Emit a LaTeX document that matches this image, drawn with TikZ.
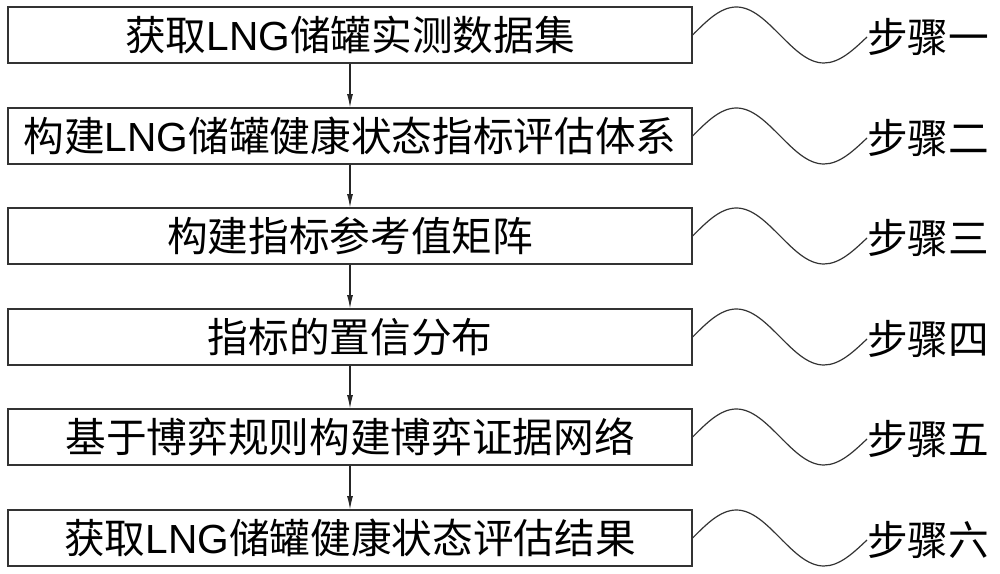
\documentclass[tikz,border=0pt]{standalone}
\usepackage{fontspec}
\setmainfont{Noto Sans CJK SC}
\newfontfamily\latinsans{Liberation Sans}
\usetikzlibrary{arrows.meta}
\newcommand{\lngtxt}{{\latinsans LNG}}
\tikzset{
  stepbox/.style={draw=black!80, line width=0.9pt, minimum width=513pt, minimum height=42pt, inner sep=0pt, font=\fontsize{30.5pt}{32pt}\selectfont},
  steplabel/.style={anchor=west, inner sep=0pt, font=\fontsize{30.5pt}{32pt}\selectfont},
  flow/.style={draw=black!85, line width=0.8pt, -{Latex[length=10pt,width=4.5pt]}},
  wave/.style={draw=black!80, line width=0.9pt}
}
\begin{document}
\begin{tikzpicture}[x=0.75pt,y=-0.75pt]
\useasboundingbox (0,0) rectangle (1000,574);
\node[stepbox] (b1) at (350,35) {获取\lngtxt 储罐实测数据集};
\node[stepbox] (b2) at (350,136) {构建\lngtxt 储罐健康状态指标评估体系};
\node[stepbox] (b3) at (350,236) {构建指标参考值矩阵};
\node[stepbox] (b4) at (350,337) {指标的置信分布};
\node[stepbox] (b5) at (350,437) {基于博弈规则构建博弈证据网络};
\node[stepbox] (b6) at (350,538) {获取\lngtxt 储罐健康状态评估结果};
\node[steplabel] (l1) at (867,37) {步骤一};
\node[steplabel] (l2) at (867,138) {步骤二};
\node[steplabel] (l3) at (867,238) {步骤三};
\node[steplabel] (l4) at (867,339) {步骤四};
\node[steplabel] (l5) at (867,439) {步骤五};
\node[steplabel] (l6) at (867,540) {步骤六};
\foreach \a/\b in {b1/b2,b2/b3,b3/b4,b4/b5,b5/b6}{
  \draw[flow] (\a.south) -- (\b.north);
}
\foreach \i in {1,...,6}{
  \draw[wave] (b\i.east) sin ++(43.75,-28) cos ++(43.75,28) sin ++(43.75,28) cos (l\i.west);
}
\end{tikzpicture}
\end{document}
